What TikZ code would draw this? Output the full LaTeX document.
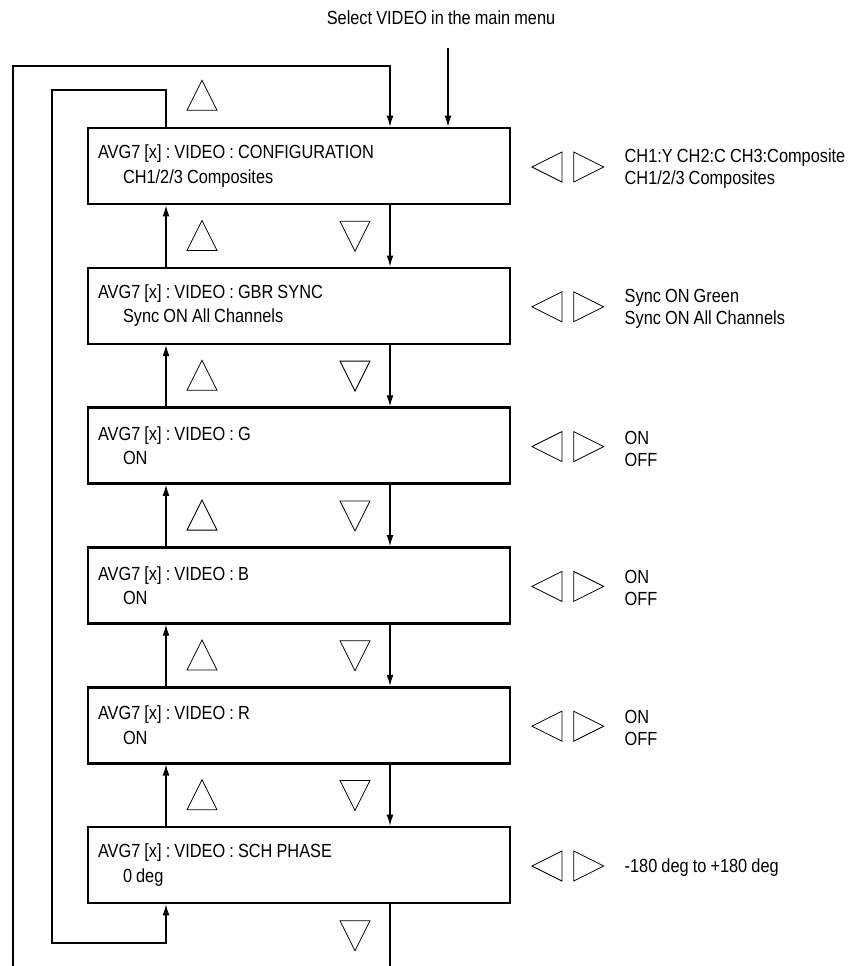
\documentclass[tikz,border=0pt]{standalone}
\usepackage{fontspec}
\setmainfont{Liberation Sans}[FakeStretch=0.86, WordSpace=0.9]
\usetikzlibrary{arrows.meta, positioning, shapes.geometric, calc}

\begin{document}
\frenchspacing
\begin{tikzpicture}[x=0.5pt, y=-0.5pt,
  every node/.style={font=\fontsize{9.5}{12.2}\selectfont},
  menubox/.style={rectangle, draw, line width=1.3pt, minimum width=211pt,
                  minimum height=38pt, text width=201pt, align=flush left, inner sep=5pt},
  link/.style={line width=0.55pt, -{Latex[length=5.5pt, width=3.4pt]}},
  wire/.style={line width=0.55pt},
  tri/.style={draw, line width=0.4pt, isosceles triangle, isosceles triangle stretches,
              inner sep=0pt, minimum width=15pt, minimum height=15pt, anchor=lower side},
  uptri/.style={tri, shape border rotate=90},
  downtri/.style={tri, shape border rotate=270},
  lefttri/.style={tri, shape border rotate=180},
  righttri/.style={tri, shape border rotate=0},
  choice/.style={anchor=west, align=flush left, inner sep=0pt, font=\fontsize{9.5}{11}\selectfont}
]
  \useasboundingbox (0,0) rectangle (856,966);

  % Menu boxes, top to bottom
  \node[menubox] (cfg) at (299,166)   {AVG7 [x] : VIDEO : CONFIGURATION\\\hspace*{12.5pt}CH1/2/3 Composites};
  \node[menubox] (gbr) at (299,305.8) {AVG7 [x] : VIDEO : GBR SYNC\\\hspace*{12.5pt}Sync ON All Channels};
  \node[menubox] (g)   at (299,445.6) {AVG7 [x] : VIDEO : G\\\hspace*{12.5pt}ON};
  \node[menubox] (b)   at (299,585.4) {AVG7 [x] : VIDEO : B\\\hspace*{12.5pt}ON};
  \node[menubox] (r)   at (299,725.2) {AVG7 [x] : VIDEO : R\\\hspace*{12.5pt}ON};
  \node[menubox] (sch) at (299,865)   {AVG7 [x] : VIDEO : SCH PHASE\\\hspace*{12.5pt}0 deg};

  % Entry from the main menu
  \node (menu) at (441,18) {Select VIDEO in the main menu};
  \coordinate (mtop) at (448,48);
  \draw[link] (mtop) -- (mtop |- cfg.north);

  % Up/down links between neighbouring boxes
  \foreach \a/\b in {cfg/gbr, gbr/g, g/b, b/r, r/sch} {
    \draw[link] ($(\a.south)+(91,0)$) -- ($(\b.north)+(91,0)$);
    \draw[link] ($(\b.north)+(-133,0)$) -- ($(\a.south)+(-133,0)$);
    \node[uptri] (up-\b) at ($(\a.south)!0.5!(\b.north)+(-97,15)$) {};
    \node[downtri] (dn-\a) at ($(\a.south)!0.5!(\b.north)+(56,-15)$) {};
  }
  \node[uptri] (up-cfg) at ($(cfg.north)+(-97,-16)$) {};
  \node[downtri] (dn-sch) at ($(sch.south)+(56,16)$) {};

  % Wrap-around loops
  \coordinate (innerTL) at (52,90);
  \coordinate (innerBL) at (52,943);
  \draw[link] ($(cfg.north)+(-133,0)$) |- (innerTL) -- (innerBL) -| ($(sch.south)+(-133,0)$);
  \coordinate (outerBL) at (13,966);
  \coordinate (outerTL) at (13,66);
  \coordinate (outerBR) at (390,966);
  \draw[link] (outerBL) -- (outerTL) -| ($(cfg.north)+(91,0)$);
  \draw[wire] ($(sch.south)+(91,0)$) -- (outerBR);

  % Left/right keys and settings
  \foreach \n in {cfg, gbr, g, b, r, sch} {
    \node[lefttri] (lt-\n) at ($(\n.east)+(51,1)$) {};
    \node[righttri] (rt-\n) at ($(\n.east)+(62,1)$) {};
  }
  \node[choice] (opt-cfg) at ($(cfg.east)+(113,3)$) {CH1:Y CH2:C CH3:Composite\\CH1/2/3 Composites};
  \node[choice] (opt-gbr) at ($(gbr.east)+(113,3)$) {Sync ON Green\\Sync ON All Channels};
  \node[choice] (opt-g)   at ($(g.east)+(113,3)$)   {ON\\OFF};
  \node[choice] (opt-b)   at ($(b.east)+(113,3)$)   {ON\\OFF};
  \node[choice] (opt-r)   at ($(r.east)+(113,3)$)   {ON\\OFF};
  \node[choice] (opt-sch) at ($(sch.east)+(113,3)$) {-180 deg to +180 deg};
\end{tikzpicture}
\end{document}
